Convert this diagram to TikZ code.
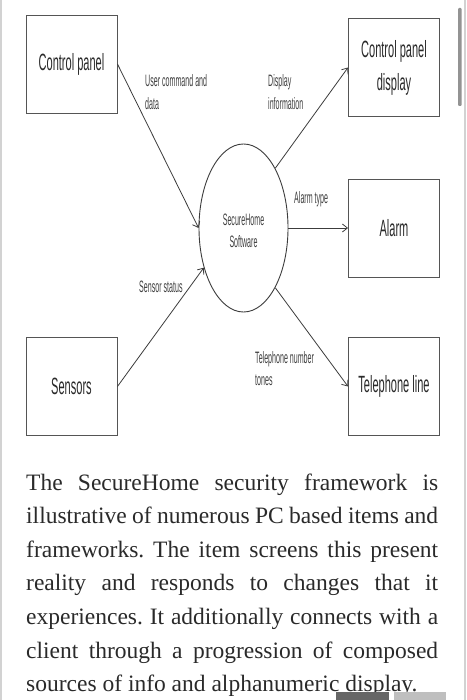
\documentclass[tikz,border=0pt]{standalone}
\usepackage{fontspec}
\usetikzlibrary{shapes.geometric,arrows.meta}
\newfontfamily\condfont[FakeStretch=0.47]{Liberation Sans}
\newfontfamily\labfont[FakeStretch=0.43]{Liberation Sans}
\newfontfamily\bodyfont{Liberation Serif}
\definecolor{linegray}{HTML}{3C3C3C}
\definecolor{boxgray}{HTML}{555555}
\definecolor{labgray}{HTML}{404040}
\definecolor{txtgray}{HTML}{2A2A2A}
\frenchspacing
\tikzset{
  ent/.style={draw=boxgray, line width=0.9pt, minimum width=91pt, minimum height=98pt, inner sep=0pt,
    text=txtgray, font=\condfont\fontsize{23.5}{33}\selectfont, align=center},
  proc/.style={draw=linegray, line width=0.9pt, ellipse, minimum width=89pt, minimum height=168pt, inner sep=0pt},
  flow/.style={draw=linegray, line width=0.8pt, -{Straight Barb[length=5pt,width=8pt]}},
  lab/.style={text=labgray, font=\labfont\fontsize{16.5}{22}\selectfont, inner sep=0pt, anchor=base west},
  bodyline/.style={text=txtgray, font=\bodyfont\fontsize{23.5}{23.5}\selectfont, inner sep=0pt, anchor=base west}
}
\begin{document}
\begin{tikzpicture}[x=1pt,y=-1pt]
\useasboundingbox (0,0) rectangle (466,700);
\fill[white] (0,0) rectangle (466,700);
% frame borders
\fill[gray!35] (0,0) rectangle (2,700);
\fill[gray!35] (464,0) rectangle (466,700);
\fill[gray!85, rounded corners=1pt] (458,8) rectangle (461.5,106);
% entities
\node[ent] (cp) at (71.5,64) {Control panel};
\node[ent] (cpd) at (394,67.5) {Control panel\\display};
\node[ent] (alarm) at (394,228) {Alarm};
\node[ent] (sens) at (71.5,386.5) {Sensors};
\node[ent] (tel) at (394,386.5) {Telephone line};
% process
\node[proc] (sw) at (243.5,228) {};
\node[text=labgray, font=\labfont\fontsize{16.5}{22}\selectfont, align=center] (swl) at (243.5,231) {SecureHome\\Software};
% flows
\draw[flow] (cp.east) -- (sw.west);
\draw[flow] (sw.62) -- (cpd.west);
\draw[flow] (sw.east) -- (alarm.west);
\draw[flow] (sens.east) -- (sw.225);
\draw[flow] (sw.298) -- (tel.west);
% flow labels
\node[lab] (l1) at (145,87) {User command and};
\node[lab] (l1b) at (145,110) {data};
\node[lab] (l2) at (268,87) {Display};
\node[lab] (l2b) at (268,110) {information};
\node[lab] (l3) at (294,204) {Alarm type};
\node[lab] (l4) at (139,292) {Sensor status};
\node[lab] (l5) at (255,363) {Telephone number};
\node[lab] (l5b) at (255,385) {tones};
% body text
\node[bodyline] (b1) at (26,490) {\makebox[412pt][s]{The SecureHome security framework is}};
\node[bodyline] (b2) at (26,523.6) {\makebox[412pt][s]{illustrative of numerous PC based items and}};
\node[bodyline] (b3) at (26,557.2) {\makebox[412pt][s]{frameworks. The item screens this present}};
\node[bodyline] (b4) at (26,590.8) {\makebox[412pt][s]{reality and responds to changes that it}};
\node[bodyline] (b5) at (26,624.4) {\makebox[412pt][s]{experiences. It additionally connects with a}};
\node[bodyline] (b6) at (26,658) {\makebox[412pt][s]{client through a progression of composed}};
\node[bodyline] (b7) at (26,691.6) {sources of info and alphanumeric display.};
% bottom bars
\fill[black!60] (336,692) rectangle (389,700);
\fill[black!25] (394,692) rectangle (446,700);
\end{tikzpicture}
\end{document}
